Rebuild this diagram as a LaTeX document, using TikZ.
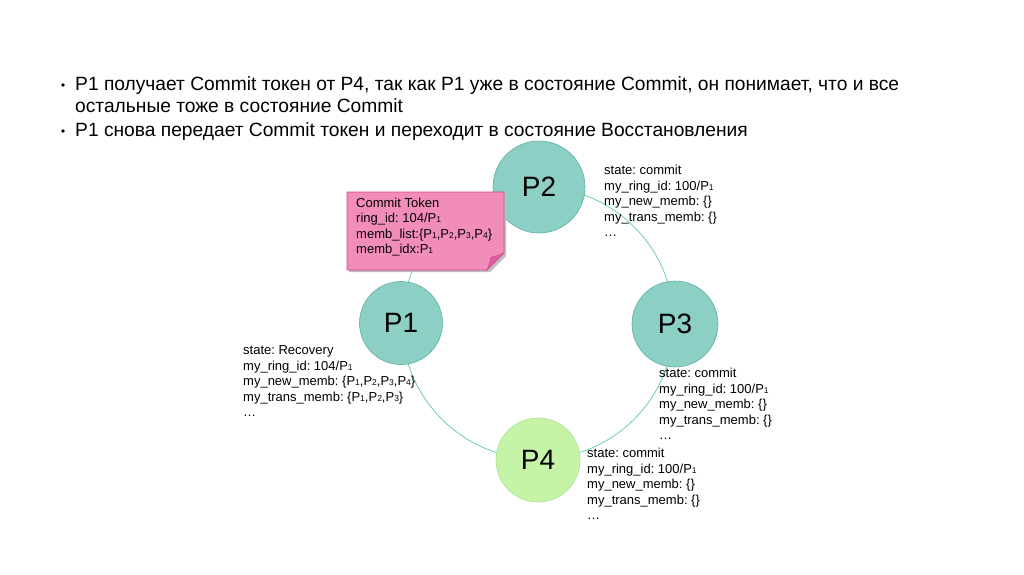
\documentclass[tikz,border=0pt]{standalone}
\usepackage{fontspec}
\setmainfont{Liberation Sans}
\frenchspacing
\usetikzlibrary{shapes.geometric}
\newcommand\sd[1]{{\fontsize{8.5}{8.5}\selectfont #1}}
\definecolor{tealfill}{HTML}{8CCFC5}
\definecolor{tealline}{HTML}{5FAEA5}
\definecolor{greenfill}{HTML}{C6F4A6}
\definecolor{greenline}{HTML}{AEE08E}
\definecolor{ringcol}{HTML}{6FCFAA}
\definecolor{notefill}{HTML}{F28DBA}
\definecolor{noteline}{HTML}{D2468A}
\definecolor{notefold}{HTML}{E0609E}
\tikzset{
  x=1pt,y=-1pt,
  proc/.style={circle,draw=tealline,fill=tealfill,line width=0.6pt,font=\fontsize{28}{28}\selectfont,inner sep=0pt},
  info/.style={anchor=base west,align=left,inner sep=0pt,font=\fontsize{13}{15.5}\selectfont},
  head/.style={anchor=base west,inner sep=0pt,font=\fontsize{19.2}{22}\selectfont},
  bul/.style={circle,fill=black,inner sep=0pt,minimum size=3.6pt}
}
\begin{document}
\begin{tikzpicture}
\useasboundingbox (0,0) rectangle (1024,574);
\fill[white] (0,0) rectangle (1024,574);
% heading
\node[bul] (b1) at (63,85) {};
\node[head] (h1) at (75,90) {P1 получает Commit токен от P4, так как P1 уже в состояние Commit, он понимает, что и все};
\node[head] (h2) at (75,112) {остальные тоже в состояние Commit};
\node[bul] (b2) at (63,131) {};
\node[head] (h3) at (75,136.5) {P1 снова передает Commit токен и переходит в состояние Восстановления};
% ring
\coordinate (c) at (538,323);
\draw[ringcol,line width=0.8pt] (c) circle[radius=136];
% processes
\node[proc,minimum size=92] (p2) at (539,187) {P2};
\node[proc,minimum size=83] (p1) at (401,323) {P1};
\node[proc,minimum size=86] (p3) at (675,324) {P3};
\node[proc,draw=greenline,fill=greenfill,minimum size=84] (p4) at (538,460) {P4};
% note
\fill[black!25] (349,194) -- (506,194) -- (506,256) -- (490,272) -- (349,272) -- cycle;
\filldraw[fill=notefill,draw=noteline,line width=0.6pt] (347,192) -- (504,192) -- (504,253) -- (487,270) -- (347,270) -- cycle;
\filldraw[fill=notefold,draw=noteline,line width=0.4pt] (504,253) -- (487,270) .. controls (490,262) .. (491,257) .. controls (496,256) .. (504,253);
\node[info] (note) at (356,253.5) {Commit Token\\ring\_id: 104/P\sd{1}\\memb\_list:\{P\sd{1},P\sd{2},P\sd{3},P\sd{4}\}\\memb\_idx:P\sd{1}};
% info labels
\node[info] (s2) at (604,236.5) {state: commit\\my\_ring\_id: 100/P\sd{1}\\my\_new\_memb: \{\}\\my\_trans\_memb: \{\}\\\dots};
\node[info] (s1) at (243,416.5) {state: Recovery\\my\_ring\_id: 104/P\sd{1}\\my\_new\_memb: \{P\sd{1},P\sd{2},P\sd{3},P\sd{4}\}\\my\_trans\_memb: \{P\sd{1},P\sd{2},P\sd{3}\}\\\dots};
\node[info] (s3) at (659,439.5) {state: commit\\my\_ring\_id: 100/P\sd{1}\\my\_new\_memb: \{\}\\my\_trans\_memb: \{\}\\\dots};
\node[info] (s4) at (587,519.5) {state: commit\\my\_ring\_id: 100/P\sd{1}\\my\_new\_memb: \{\}\\my\_trans\_memb: \{\}\\\dots};
\end{tikzpicture}
\end{document}
